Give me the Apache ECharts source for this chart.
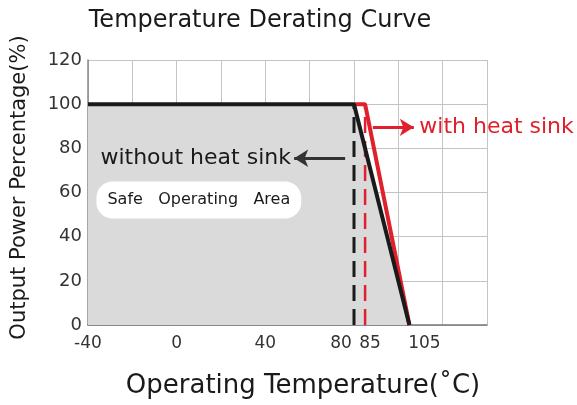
<!DOCTYPE html>
<html>
<head>
<meta charset="utf-8">
<script src="https://cdn.jsdelivr.net/npm/echarts@6/dist/echarts.min.js"></script>
<style>html,body{margin:0;padding:0;background:#fff}#c{width:577px;height:405px}</style>
</head>
<body>
<div id="c"></div>
<script>
// ---- data ----
const titleText = 'Temperature Derating Curve';
const xName = 'Operating Temperature(\u02DAC)';
const yName = 'Output Power Percentage(%)';
const xTickLabels = [-40, 0, 40, 80, 85, 105];
const yTickLabels = [0, 20, 40, 60, 80, 100, 120];
const withoutSink = [[-40, 100], [80, 100], [105, 0]];
const withSink = [[80, 100], [85, 100], [105, 0]];
const withoutSinkDash = [[80, 0], [80, 100]];
const withSinkDash = [[85, 0], [85, 100]];
const withoutArrow = [[76, 75.5], [53, 75.5]];
const withArrow = [[88.5, 89.5], [107, 89.5]];
const withoutLabelAt = [52, 75.5];
const withLabelAt = [109, 89.5];
const safeLabelAt = [10, 56.6];

const FONT = '"DejaVu Sans", sans-serif';
const RED = '#e0202c';

const chart = echarts.init(document.getElementById('c'));
const labelRich = {
  a: { fontSize: 17, color: '#333', fontFamily: FONT, padding: [0, 26, 0, 0] },
  b: { fontSize: 17, color: '#333', fontFamily: FONT, padding: [0, 0, 0, 10] },
  c: { fontSize: 17, color: '#333', fontFamily: FONT, padding: [0, 0, 0, 30] },
  n: { fontSize: 17, color: '#333', fontFamily: FONT }
};
chart.setOption({
  animation: false,
  backgroundColor: '#fff',
  title: [
    { text: titleText, left: 255, top: 4, textAlign: 'center',
      textStyle: { fontSize: 24, fontWeight: 'normal', color: '#1a1a1a', fontFamily: FONT } },
    { text: xName, left: 298, top: 368, textAlign: 'center',
      textStyle: { fontSize: 26, fontWeight: 'normal', color: '#1a1a1a', fontFamily: FONT } }
  ],
  grid: { left: 88, right: 90, top: 60, bottom: 80, outerBoundsMode: 'none', containLabel: false },
  xAxis: [
    { type: 'value', min: -40, max: 140, interval: 20,
      axisLine: { show: true, onZero: false, lineStyle: { color: '#777', width: 1.5 } },
      axisTick: { show: false }, axisLabel: { show: false },
      splitLine: { show: true, lineStyle: { color: '#c4c4c4', width: 1 } } },
    { type: 'value', min: -40, max: 140, interval: 5, position: 'bottom',
      axisLine: { show: false, onZero: false }, axisTick: { show: false }, splitLine: { show: false },
      axisLabel: { show: true, margin: 10, showMinLabel: true, showMaxLabel: false,
        formatter: function (v) {
          if (xTickLabels.indexOf(v) < 0) return '';
          if (v === 80) return '{a|' + v + '}';
          if (v === 85) return '{b|' + v + '}';
          if (v === 105) return '{c|' + v + '}';
          return '{n|' + v + '}';
        }, rich: labelRich } }
  ],
  yAxis: {
    type: 'value', min: 0, max: 120, interval: 20,
    name: yName, nameLocation: 'middle', nameGap: 58, nameRotate: 90,
    nameTextStyle: { fontSize: 21, color: '#1a1a1a', fontFamily: FONT, padding: [0, 0, 0, 10] },
    axisLine: { show: true, onZero: false, lineStyle: { color: '#888', width: 1.5 } },
    axisTick: { show: false },
    axisLabel: { fontSize: 18, color: '#333', fontFamily: FONT, margin: 6,
      formatter: function (v) { return yTickLabels.indexOf(v) >= 0 ? String(v) : ''; } },
    splitLine: { show: true, lineStyle: { color: '#c4c4c4', width: 1 } }
  },
  series: [
    { type: 'line', data: withoutSink, symbol: 'none', z: 1,
      lineStyle: { width: 0 }, areaStyle: { color: '#dadada', opacity: 1 } },
    { type: 'line', data: withoutSinkDash, symbol: 'none', z: 2,
      lineStyle: { color: '#1a1a1a', width: 3, type: [16, 8] } },
    { type: 'line', data: withSinkDash, symbol: 'none', z: 2,
      lineStyle: { color: RED, width: 2.5, type: [16, 8] } },
    { type: 'line', data: withSink, symbol: 'none', z: 3,
      lineStyle: { color: RED, width: 4 } },
    { type: 'line', data: withoutSink, symbol: 'none', z: 4,
      lineStyle: { color: '#1a1a1a', width: 4 } },
    { type: 'line', data: [], symbol: 'none', z: 5,
      markLine: { silent: true, symbol: ['none', 'arrow'], symbolSize: [13, 14],
        label: { show: false },
        data: [
          [{ coord: withoutArrow[0], lineStyle: { color: '#333', width: 3, type: 'solid' } },
           { coord: withoutArrow[1] }],
          [{ coord: withArrow[0], lineStyle: { color: RED, width: 3, type: 'solid' } },
           { coord: withArrow[1] }]
        ] } },
    { type: 'scatter', symbolSize: 0, z: 6, silent: true,
      itemStyle: { opacity: 1 },
      data: [
        { value: withoutLabelAt, label: { show: true, position: 'left', distance: 1,
          formatter: 'without heat sink', fontSize: 22, color: '#1a1a1a', fontFamily: FONT } },
        { value: withLabelAt, label: { show: true, position: 'right', distance: 1,
          formatter: 'with heat sink', fontSize: 22, color: RED, fontFamily: FONT } },
        { value: safeLabelAt, label: { show: true, position: 'inside',
          formatter: 'Safe   Operating   Area', fontSize: 16, color: '#1a1a1a', fontFamily: FONT,
          backgroundColor: '#fff', borderRadius: 16, padding: [11, 11, 10, 11] } }
      ] }
  ]
});
</script>
</body>
</html>
